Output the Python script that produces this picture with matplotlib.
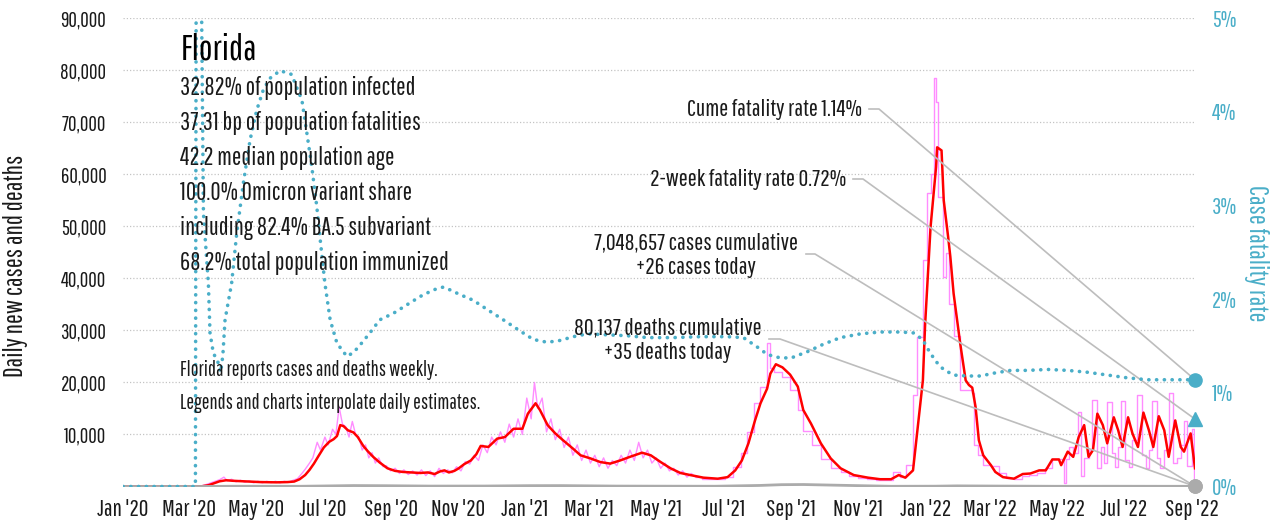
import matplotlib
matplotlib.use('Agg')
import matplotlib.pyplot as plt
import matplotlib.dates as mdates
from matplotlib.lines import Line2D
import pandas as pd

plt.rcParams['font.family'] = ['Pathway Gothic One', 'PT Sans Narrow', 'DejaVu Sans']

# day offsets from 2020-01-01
avg_cases = [(0, 0), (60, 0), (72, 50), (78, 250), (84, 700), (88, 1000), (94, 1200), (100, 1100), (110, 1000),
             (125, 850), (140, 800), (150, 850), (156, 950), (161, 1400), (166, 2200), (170, 3200), (174, 4400),
             (178, 5800), (183, 7500), (188, 8600), (192, 9100), (195, 9700), (198, 11800), (201, 11600),
             (205, 10800), (210, 10400), (214, 9500), (219, 7800), (223, 6800), (228, 5700), (234, 4600),
             (241, 3500), (248, 3000), (255, 2800), (263, 2700), (271, 2600), (278, 2700), (284, 2400),
             (289, 2900), (293, 3100), (297, 2700), (302, 3000), (306, 3500), (311, 4300), (317, 5000),
             (322, 6200), (326, 7800), (333, 7600), (341, 9200), (348, 9500), (356, 11100), (364, 11100),
             (369, 14000), (376, 16000), (380, 14700), (387, 11800), (394, 10200), (401, 8900), (410, 7300),
             (417, 6000), (426, 5400), (435, 4700), (444, 4400), (453, 5000), (462, 5700), (473, 6500),
             (481, 6000), (490, 4700), (499, 3500), (508, 2600), (517, 2200), (529, 1700), (542, 1500),
             (551, 1800), (558, 3100), (564, 5000), (570, 8300), (576, 12700), (581, 16000), (587, 18800),
             (590, 21700), (595, 23500), (601, 22900), (608, 21500), (615, 19200), (620, 14700), (627, 12100),
             (636, 8300), (645, 5400), (654, 3500), (666, 2200), (679, 1700), (690, 1400), (700, 1400),
             (707, 2200), (713, 1700), (720, 3100), (724, 10800), (729, 20400), (731, 31000), (736, 49900),
             (741, 61400), (742, 65200), (746, 64600), (748, 55000), (752, 48000), (754, 44200), (757, 37100),
             (763, 27500), (768, 20400), (771, 19500), (774, 19000), (777, 15300), (780, 8900), (784, 6000),
             (791, 4100), (795, 2800), (802, 1800), (812, 1500), (820, 2400), (827, 2500), (835, 3100),
             (841, 3100), (847, 5200), (853, 5200), (855, 4100), (861, 6700), (866, 5700), (871, 9500),
             (876, 11800), (880, 5700), (884, 7000), (888, 14000), (893, 11800), (897, 8300), (903, 13300),
             (907, 10800), (911, 7600), (916, 13300), (920, 10200), (925, 7600), (930, 14200), (935, 10800),
             (939, 7600), (944, 13500), (949, 10800), (953, 5700), (959, 12700), (964, 7600), (967, 6700),
             (973, 10200), (977, 3500)]

# raw daily cases while reported daily (drawn as a jagged line)
raw_daily = [(0, 0), (62, 0), (72, 150), (76, 400), (80, 700), (84, 1000), (88, 1300), (92, 1800), (95, 1100),
             (99, 1400), (103, 900), (107, 1200), (111, 800), (115, 1100), (119, 700), (123, 1000), (127, 700),
             (131, 1000), (135, 750), (139, 1000), (143, 700), (147, 1000), (151, 800), (155, 1200), (159, 1500),
             (163, 2500), (166, 3300), (170, 4500), (173, 5500), (177, 8500), (180, 7000), (184, 9500),
             (187, 8000), (191, 11000), (194, 10000), (197, 15300), (200, 12000), (203, 11500), (206, 9500),
             (209, 12500), (212, 10000), (215, 9500), (218, 7000), (221, 8000), (224, 5500), (227, 6500),
             (230, 4500), (233, 5500), (237, 3800), (240, 4000), (244, 3000), (248, 3500), (252, 2500),
             (256, 3200), (260, 2300), (264, 3000), (268, 2200), (272, 3200), (276, 2100), (280, 3000),
             (284, 1900), (288, 3500), (292, 2500), (296, 3200), (300, 2600), (304, 3800), (308, 3000),
             (312, 4800), (316, 4300), (320, 6000), (324, 5000), (328, 8000), (332, 6500), (336, 9500),
             (340, 8000), (344, 10500), (348, 8500), (352, 12000), (356, 9500), (360, 13000), (364, 10000),
             (368, 17000), (372, 13000), (375, 20000), (378, 15000), (382, 17000), (386, 10500), (390, 13000),
             (394, 9000), (398, 11000), (402, 7500), (406, 9500), (410, 6000), (414, 8000), (418, 5000),
             (422, 7000), (426, 4500), (430, 6000), (434, 3800), (438, 5500), (442, 3500), (446, 5000),
             (450, 4000), (454, 6000), (458, 4500), (462, 7000), (466, 5000), (470, 8500), (474, 5500),
             (478, 7000), (482, 4500), (486, 5500), (490, 3500), (494, 4500), (498, 3000), (502, 3500),
             (506, 2200), (510, 3000), (514, 1800), (518, 2500), (522, 1800)]

# raw cases after the switch to weekly reports (drawn as steps)
raw_weekly = [(522, 1800), (528, 1500), (535, 1400),
              (542, 1500), (549, 1900), (556, 3800), (563, 6400), (569, 10400), (575, 16000), (581, 19200),
              (587, 27500), (590, 22700), (593, 22000), (601, 21000), (608, 18500), (615, 14700), (620, 10600),
              (628, 8000), (636, 5200), (645, 3500), (654, 2700), (662, 2000), (670, 1600), (678, 1400),
              (686, 1300), (694, 1300), (702, 2800), (708, 1800), (714, 4100), (720, 17500), (724, 28700),
              (729, 43500), (733, 56400), (736, 60000), (739, 78500), (741, 74000), (743, 55600), (747, 40200),
              (750, 44800), (753, 35000), (757, 29000), (763, 18500), (768, 18500), (774, 18000), (776, 8000),
              (779, 6000), (784, 4200), (791, 4000), (798, 2500), (805, 1600), (812, 1500), (819, 2000),
              (826, 2300), (833, 2600), (840, 3500), (847, 5200), (858, 600), (859, 5200), (862, 7500),
              (866, 6500), (870, 14300), (873, 2000), (876, 5500), (880, 7000), (883, 16600), (888, 3500),
              (891, 7500), (894, 4500), (897, 16300), (901, 6500), (904, 3800), (907, 7500), (910, 16500),
              (913, 5000), (917, 3800), (920, 9000), (924, 17500), (929, 6000), (932, 3500), (935, 7000),
              (938, 16500), (942, 5500), (945, 3500), (949, 7000), (953, 18000), (957, 4500), (961, 5500),
              (964, 8000), (967, 12500), (970, 4000), (974, 11000), (976, 300), (977, 300)]

daily_deaths = [(0, 0), (70, 5), (100, 50), (160, 40), (190, 120), (210, 180), (240, 150), (280, 80), (330, 90),
                (370, 160), (400, 170), (450, 80), (500, 60), (540, 50), (580, 200), (600, 350), (620, 380),
                (650, 250), (700, 40), (740, 60), (760, 120), (800, 80), (850, 40), (900, 50), (977, 35)]

cfr_pct = [(0, 0), (66, 0), (67, 8), (71, 8), (71.7, 5.0), (73.3, 2.92), (77.8, 2.17), (79.3, 1.64), (82.4, 1.42),
           (86, 1.35), (89, 1.22), (91, 1.4), (93, 1.78), (99, 2.17), (103.7, 2.71), (109.7, 3.24), (115.8, 3.70),
           (121.9, 4.02), (128, 4.24), (134, 4.36), (143, 4.44), (149, 4.42), (153.8, 4.40), (158, 4.27),
           (163, 4.13), (167.5, 3.78), (172, 3.42), (176.6, 2.99), (179.7, 2.64), (184, 2.17), (188.8, 1.78),
           (195, 1.53), (204, 1.39), (210, 1.43), (216, 1.51), (225, 1.64), (234, 1.78), (246.5, 1.85),
           (258.7, 1.94), (271, 2.03), (283, 2.10), (292, 2.13), (298, 2.10), (307, 2.05), (319, 1.99),
           (332, 1.89), (346.6, 1.78), (362, 1.66), (374, 1.57), (386.7, 1.54), (398.5, 1.56), (410.4, 1.60),
           (423, 1.63), (441, 1.62), (459.6, 1.61), (478, 1.59), (501.6, 1.59), (526, 1.60), (550.8, 1.60),
           (565.4, 1.59), (578, 1.49), (587.3, 1.41), (596.4, 1.38), (608.3, 1.37), (623.8, 1.44),
           (638.4, 1.52), (653.9, 1.59), (672, 1.63), (690.4, 1.65), (708.6, 1.65), (720.5, 1.64),
           (728.7, 1.57), (734, 1.46), (740.5, 1.34), (747.8, 1.25), (757, 1.19), (769.7, 1.18),
           (781.6, 1.18), (793.4, 1.21), (809, 1.24), (824.4, 1.24), (842.7, 1.25), (861, 1.24), (879, 1.22),
           (897.4, 1.19), (915.6, 1.16), (934, 1.14), (952, 1.14), (977, 1.14)]

last_day = 977
cases_today = 26
deaths_today = 35
cume_cfr = 1.14
two_week_cfr = 0.72

state = 'Florida'
facts = ['32.82% of population infected', '37.31 bp of population fatalities', '42.2 median population age',
         '100.0% Omicron variant share', 'including 82.4% BA.5 subvariant', '68.2% total population immunized']
notes = ['Florida reports cases and deaths weekly.', 'Legends and charts interpolate daily estimates.']

start = pd.Timestamp('2020-01-01')


def to_dates(series):
    d, v = zip(*series)
    return start + pd.to_timedelta(list(d), unit='D'), list(v)


W, H = 1283, 529
TEAL = '#4aaec8'
GRAY = '#ababab'
INK = '#1a1a1a'

fig = plt.figure(figsize=(W / 100, H / 100), dpi=100)
ax = fig.add_axes([123 / W, 1 - 486.5 / H, (1195 - 123) / W, (486.5 - 18.3) / H])

x, y = to_dates(raw_daily)
ax.plot(x, y, color='#ff8cff', lw=1.0, zorder=2)
x, y = to_dates(raw_weekly)
ax.plot(x, y, color='#ff8cff', lw=1.0, drawstyle='steps-post', zorder=2)
x, y = to_dates(avg_cases)
ax.plot(x, y, color='#ff0000', lw=1.8, zorder=3)
x, y = to_dates(daily_deaths)
ax.plot(x, y, color=GRAY, lw=2.0, zorder=3, solid_capstyle='butt')

end = start + pd.Timedelta(days=last_day)
ax.set_xlim(start, end)
ax.set_ylim(0, 90000)

ax2 = ax.twinx()
x, y = to_dates(cfr_pct)
ax2.plot(x, y, color=TEAL, lw=2.6, linestyle=(0, (0.05, 2.1)), dash_capstyle='round', zorder=3)
ax2.set_ylim(0, 5)
ax2.set_xlim(start, end)

for a in (ax, ax2):
    for s in a.spines.values():
        s.set_visible(False)
    a.tick_params(length=0)

ax.set_yticks(range(10000, 90001, 10000))
ax.set_yticklabels([f'{v:,}' for v in range(10000, 90001, 10000)], fontsize=15, color=INK)
ax.tick_params(axis='y', pad=12)
ax.grid(axis='y', color='#c4c4c4', linestyle=(0, (1, 1.6)), linewidth=0.9)
ax.set_axisbelow(True)

xt = pd.date_range('2020-01-01', '2022-09-01', freq='2MS')
ax.set_xticks(xt)
ax.set_xticklabels([d.strftime("%b '%y") for d in xt], fontsize=17, color=INK)
ax.tick_params(axis='x', pad=9)

ax2.set_yticks(range(0, 6))
ax2.set_yticklabels([f'{v}%' for v in range(0, 6)], fontsize=16.5, color=TEAL)
ax2.tick_params(axis='y', pad=12)

fig.text(16 / W, 1 - 266 / H, 'Daily new cases and deaths', rotation=90, ha='center', va='center',
         fontsize=18.8, color=INK)
fig.text(1256 / W, 1 - 253 / H, 'Case fatality rate', rotation=270, ha='center', va='center',
         fontsize=19, color=TEAL)

fig.text(181 / W, 1 - 49 / H, state, ha='left', va='center', fontsize=26, color='black')
for i, t in enumerate(facts):
    fig.text(180 / W, 1 - (88 + i * 35) / H, t, ha='left', va='center', fontsize=18, color=INK)
for i, t in enumerate(notes):
    fig.text(180 / W, 1 - (370 + i * 33) / H, t, ha='left', va='center', fontsize=14.8, color=INK)

endnum = mdates.date2num(end)


def fig_frac(a, yv):
    d = a.transData.transform((endnum, yv))
    return fig.transFigure.inverted().transform(d)


callouts = [
    (f'Cume fatality rate {cume_cfr:.2f}%', 862, 110, 869, 879, ax2, cume_cfr, 'right'),
    (f'2-week fatality rate {two_week_cfr:.2f}%', 846, 180, 853, 863, ax2, two_week_cfr, 'right'),
    (f'7,048,657 cases cumulative\n+{cases_today} cases today', 696, 255, 806, 815, ax, cases_today, 'center'),
    (f'80,137 deaths cumulative\n+{deaths_today} deaths today', 668, 340, 769, 780, ax, deaths_today, 'center'),
]
for label, tx, ty, lx0, lx1, a, yv, ha in callouts:
    fig.text(tx / W, 1 - ty / H, label, ha=ha, va='center', fontsize=17.3, color=INK,
             multialignment='center', linespacing=1.25)
    fx, fy = fig_frac(a, yv)
    yl = 1 - (ty - 1) / H
    ln = Line2D([lx0 / W, lx1 / W, fx], [yl, yl, fy], transform=fig.transFigure, color='#bdbdbd', lw=1.2,
                zorder=4, clip_on=False)
    ax.add_artist(ln)

ax.plot([end], [cases_today], 'o', ms=9.5, color=GRAY, clip_on=False, zorder=6)
ax.plot([end], [deaths_today], 'o', ms=9.5, color=GRAY, clip_on=False, zorder=6)
ax2.plot([end], [cume_cfr], 'o', ms=9.5, color=TEAL, clip_on=False, zorder=6)
ax2.plot([end], [two_week_cfr], '^', ms=10, color=TEAL, clip_on=False, zorder=6)

ax.set_xlim(start, end)
ax.set_ylim(0, 90000)
ax2.set_ylim(0, 5)

fig.savefig('out.png', dpi=100)
